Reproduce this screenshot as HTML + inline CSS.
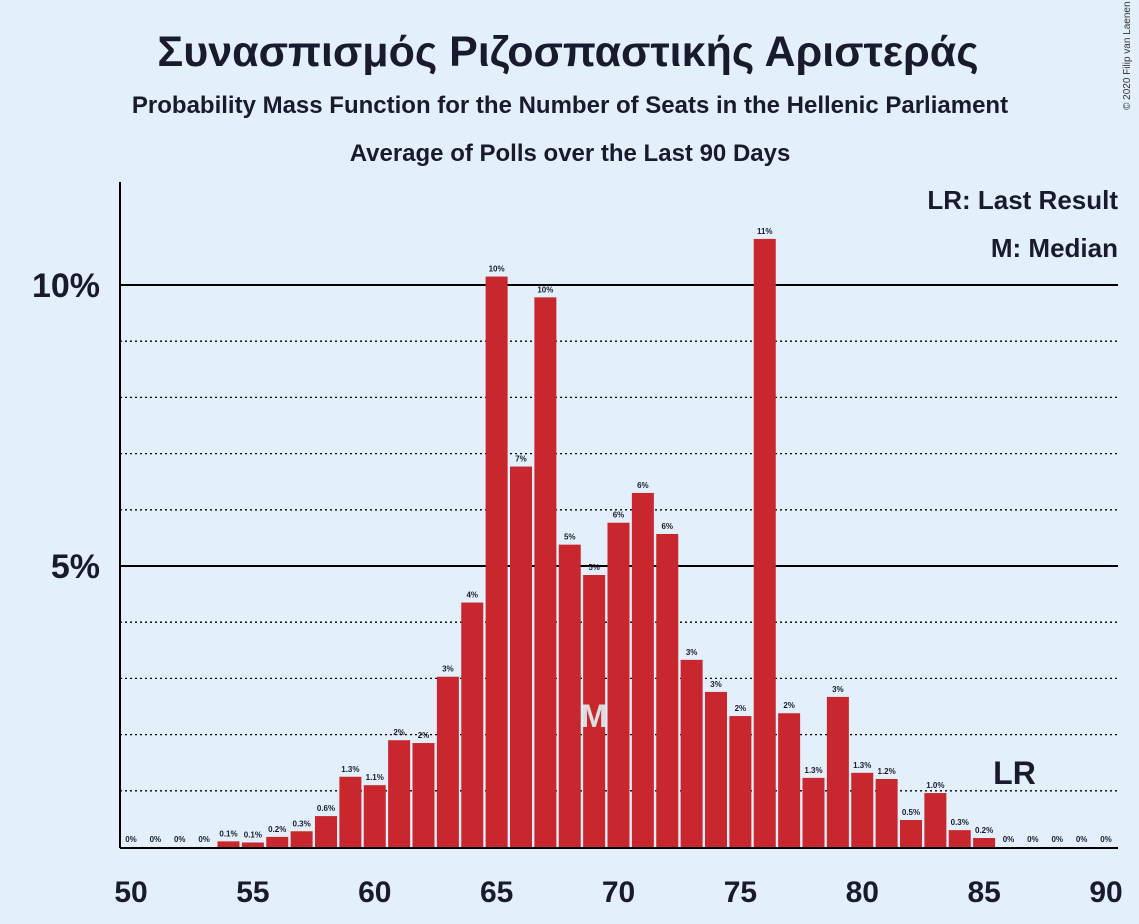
<!DOCTYPE html>
<html><head><meta charset="utf-8"><style>
body{margin:0;background:#e3f0fc;}
svg{display:block;font-family:"Liberation Sans","Noto Sans CJK SC",sans-serif;}
</style></head><body>
<svg id="c" width="1139" height="924">
<rect width="1139" height="924" fill="#e3f0fc"/>
<text x="568" y="66" text-anchor="middle" font-size="43" font-weight="bold" fill="#1a1a2e">Συνασπισμός Ριζοσπαστικής Αριστεράς</text>
<text x="570" y="113" text-anchor="middle" font-size="24" font-weight="bold" fill="#1a1a2e">Probability Mass Function for the Number of Seats in the Hellenic Parliament</text>
<text x="570" y="161" text-anchor="middle" font-size="24" font-weight="bold" fill="#1a1a2e">Average of Polls over the Last 90 Days</text>
<text x="1130" y="110" font-size="10" fill="#333" transform="rotate(-90 1130 110)">© 2020 Filip van Laenen</text>
<g id="grid"></g><g id="bars"></g><g id="labels"></g>
<line x1="120" y1="182" x2="120" y2="848" stroke="#000" stroke-width="2"/>
<line x1="120" y1="848" x2="1118" y2="848" stroke="#000" stroke-width="2"/>
<text x="1118" y="209" text-anchor="end" font-size="26" font-weight="bold" fill="#1a1a2e">LR: Last Result</text>
<text x="1118" y="257" text-anchor="end" font-size="26" font-weight="bold" fill="#1a1a2e">M: Median</text>
</svg>
<script>
const seats=[50,51,52,53,54,55,56,57,58,59,60,61,62,63,64,65,66,67,68,69,70,71,72,73,74,75,76,77,78,79,80,81,82,83,84,85,86,87,88,89,90];
const probs=[0,0,0,0,0.1,0.08,0.18,0.28,0.55,1.25,1.1,1.9,1.85,3.03,4.35,10.15,6.77,9.78,5.38,4.84,5.77,6.3,5.57,3.33,2.76,2.33,10.82,2.38,1.23,2.67,1.32,1.21,0.48,0.96,0.3,0.16,0,0,0,0,0];
const printed=["0%","0%","0%","0%","0.1%","0.1%","0.2%","0.3%","0.6%","1.3%","1.1%","2%","2%","3%","4%","10%","7%","10%","5%","5%","6%","6%","6%","3%","3%","2%","11%","2%","1.3%","3%","1.3%","1.2%","0.5%","1.0%","0.3%","0.2%","0%","0%","0%","0%","0%"];
const xTicks=[50,55,60,65,70,75,80,85,90];
const yTicks=[5,10];
const medianSeat=69, lastResult=86;
const NS="http://www.w3.org/2000/svg";
const X=s=>131+(s-50)*24.375;
const Y=p=>847-p*56.2;
function mk(t,a,par,txt){const e=document.createElementNS(NS,t);for(const k in a)e.setAttribute(k,a[k]);if(txt!==undefined)e.textContent=txt;document.getElementById(par).appendChild(e);return e;}
for(let p=1;p<=10;p++){
 const solid=p%5===0;
 const l=mk('line',{x1:120,x2:1118,y1:Y(p),y2:Y(p),stroke:'#000','stroke-width':solid?2:1.3,'stroke-dasharray':solid?'none':'2 3'},'grid');
 
 
}
yTicks.forEach(t=>{const e=mk('text',{x:100,y:Y(t)+12,'text-anchor':'end','font-size':34,'font-weight':'bold',fill:'#1a1a2e'},'labels',t+'%');
 
 });
xTicks.forEach(t=>{const e=mk('text',{x:X(t),y:902,'text-anchor':'middle','font-size':30,'font-weight':'bold',fill:'#1a1a2e'},'labels',t);
 
 });
seats.forEach((s,i)=>{
 const p=probs[i];
 if(p>0){const r=mk('rect',{x:X(s)-11,y:Y(p),width:22,height:847-Y(p),fill:'#c8272d'},'bars');
 
 }
 const t=mk('text',{x:X(s),y:Y(p)-5,'text-anchor':'middle','font-size':8,'font-weight':'bold',fill:'#1a1a2e'},'labels',printed[i]);
 
 
});
const m=mk('text',{x:X(medianSeat),y:727,'text-anchor':'middle','font-size':32,'font-weight':'bold',fill:'#ddd'},'labels','M');


const lr=mk('text',{x:X(lastResult)+6,y:784,'text-anchor':'middle','font-size':32,'font-weight':'bold',fill:'#1a1a2e'},'labels','LR');


</script>
</body></html>
